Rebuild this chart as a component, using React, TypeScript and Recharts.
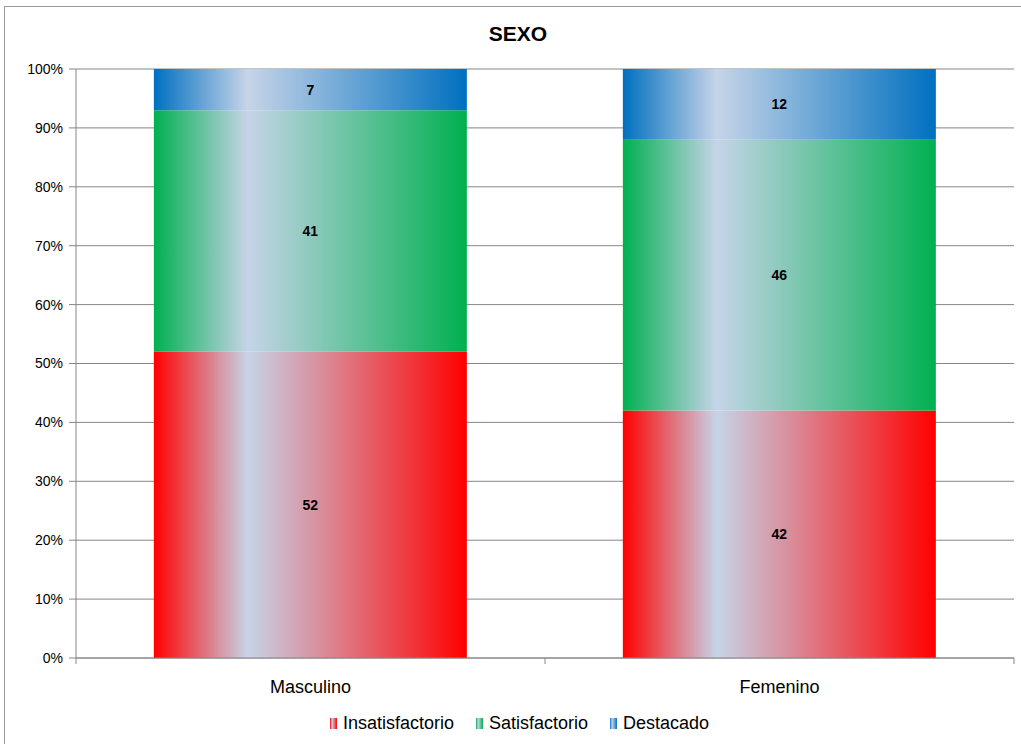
import React from "react";
import {
  BarChart,
  Bar,
  XAxis,
  YAxis,
  CartesianGrid,
  Legend,
  LabelList,
} from "recharts";

const categories = ["Masculino", "Femenino"];
const seriesNames = ["Insatisfactorio", "Satisfactorio", "Destacado"];
const insatisfactorio = [52, 42];
const satisfactorio = [41, 46];
const destacado = [7, 12];
const yTicks = [0, 0.1, 0.2, 0.3, 0.4, 0.5, 0.6, 0.7, 0.8, 0.9, 1];

const colors: Record<string, string> = {
  Insatisfactorio: "#ff0000",
  Satisfactorio: "#00b050",
  Destacado: "#0070c0",
};

const data = categories.map((c, i) => ({
  name: c,
  Insatisfactorio: insatisfactorio[i],
  Satisfactorio: satisfactorio[i],
  Destacado: destacado[i],
}));

const W = 1021;
const H = 744;
const PLOT_LEFT = 76;
const PLOT_RIGHT = 1014;
const FONT = "'Liberation Sans', Arial, sans-serif";

function gradId(name: string) {
  return `grad-${name}`;
}

// eslint-disable-next-line @typescript-eslint/no-explicit-any
function CategoryTick({ x, y, payload, index }: any) {
  const band = (PLOT_RIGHT - PLOT_LEFT) / categories.length;
  return (
    <g>
      <line x1={x - band / 2} y1={y - 8} x2={x - band / 2} y2={y - 2} stroke="#868686" />
      {index === categories.length - 1 && (
        <line x1={x + band / 2} y1={y - 8} x2={x + band / 2} y2={y - 2} stroke="#868686" />
      )}
      <text
        x={x}
        y={y + 27}
        textAnchor="middle"
        fontSize={18}
        fill="#000"
        fontFamily={FONT}
      >
        {payload.value}
      </text>
    </g>
  );
}

function LegendContent() {
  return (
    <div
      style={{
        display: "flex",
        justifyContent: "center",
        alignItems: "center",
        fontFamily: FONT,
        fontSize: 18,
        color: "#000",
        gap: 22,
        paddingLeft: 25,
      }}
    >
      {seriesNames.map((s) => (
        <span key={s} style={{ display: "flex", alignItems: "center" }}>
          <svg width={8} height={11} style={{ marginRight: 5 }}>
            <rect x={0} y={0} width={7} height={11} fill={`url(#${gradId(s)})`} />
          </svg>
          {s}
        </span>
      ))}
    </div>
  );
}

export default function App() {
  return (
    <div
      style={{
        position: "absolute",
        left: 0,
        top: 0,
        width: W,
        height: H,
        background: "#fff",
      }}
    >
      <div
        style={{
          position: "absolute",
          left: 4,
          top: 6,
          width: W,
          height: H,
          border: "1px solid #9a9a9a",
          boxSizing: "border-box",
        }}
      />
      <div
        style={{
          position: "absolute",
          top: 22,
          left: 0,
          width: 1036,
          textAlign: "center",
          fontFamily: FONT,
          fontWeight: "bold",
          fontSize: 21,
          color: "#000",
        }}
      >
        SEXO
      </div>
      <svg width={0} height={0} style={{ position: "absolute" }}>
        <defs>
          {seriesNames.map((s) => (
            <linearGradient key={s} id={gradId(s)} x1="0" y1="0" x2="1" y2="0">
              <stop offset="0%" stopColor={colors[s]} />
              <stop offset="30%" stopColor="#c6d4e8" />
              <stop offset="100%" stopColor={colors[s]} />
            </linearGradient>
          ))}
        </defs>
      </svg>
      <div style={{ position: "absolute", left: 0, top: 0 }}>
        <BarChart
          width={W}
          height={H}
          data={data}
          stackOffset="expand"
          barCategoryGap="16.6%"
          margin={{ top: 69, right: W - PLOT_RIGHT, left: 0, bottom: 10 }}
        >
          <CartesianGrid vertical={false} stroke="#868686" strokeWidth={1} />
          <XAxis
            dataKey="name"
            stroke="#868686"
            tickLine={false}
            height={40}
            tick={<CategoryTick />}
            interval={0}
          />
          <YAxis
            width={PLOT_LEFT}
            domain={[0, 1]}
            ticks={yTicks}
            interval={0}
            stroke="#868686"
            tickSize={7}
            tickMargin={6}
            tickFormatter={(v: number) => `${Math.round(v * 100)}%`}
            tick={{ fill: "#000", fontSize: 14, fontFamily: FONT }}
          />
          {seriesNames.map((s) => (
            <Bar
              key={s}
              dataKey={s}
              stackId="a"
              fill={`url(#${gradId(s)})`}
              isAnimationActive={false}
            >
              <LabelList
                dataKey={s}
                position="center"
                fill="#000"
                fontSize={14}
                fontWeight="bold"
                fontFamily={FONT}
              />
            </Bar>
          ))}
          <Legend
            verticalAlign="bottom"
            height={36}
            content={<LegendContent />}
            wrapperStyle={{ top: 713, bottom: "auto" }}
          />
        </BarChart>
      </div>
    </div>
  );
}
